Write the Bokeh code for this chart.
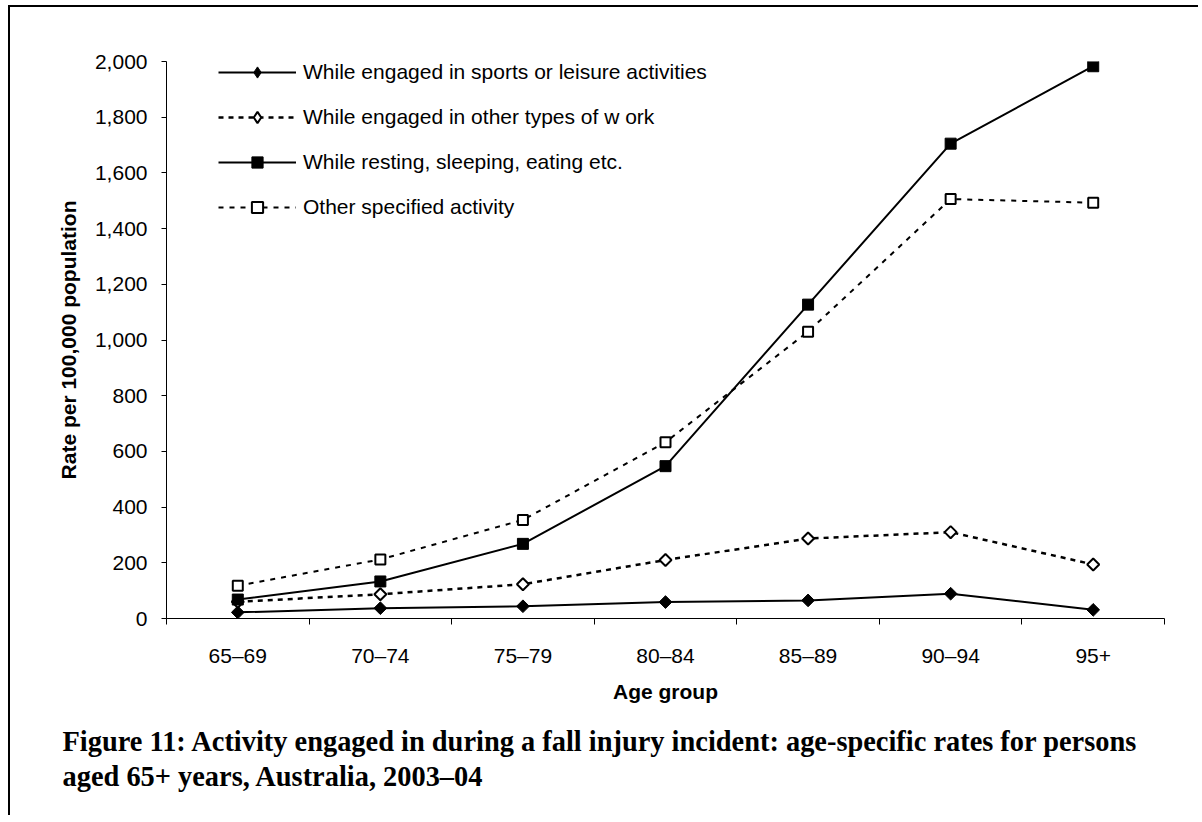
import numpy as np
from bokeh.plotting import figure
from bokeh.models import (Range1d, FixedTicker, NumeralTickFormatter, Legend, LegendItem, Title)
from bokeh.embed import file_html
from bokeh.resources import INLINE

categories = ["65–69", "70–74", "75–79", "80–84", "85–89", "90–94", "95+"]
sports = [22, 37, 44, 59, 65, 89, 31]
other_work = [60, 87, 123, 210, 287, 310, 194]
resting = [68, 133, 268, 547, 1127, 1705, 1983]
other_spec = [118, 212, 354, 633, 1030, 1506, 1493]

series_labels = [
    "While engaged in sports or leisure activities",
    "While engaged in other types of w ork",
    "While resting, sleeping, eating etc.",
    "Other specified activity",
]
y_ticks = list(range(0, 2001, 200))

xpos = [i + 0.5 for i in range(len(categories))]
bounds = list(range(len(categories) + 1))

SANS = "Liberation Sans"

p = figure(width=1190, height=810, output_backend="svg", toolbar_location=None,
           x_range=Range1d(0, len(categories)), y_range=Range1d(0, 2000),
           min_border_left=156, min_border_right=36, min_border_top=54, min_border_bottom=199)
p.outline_line_color = None
p.xgrid.visible = False
p.ygrid.visible = False
p.background_fill_color = "white"
p.border_fill_color = "white"
p.styles = {"margin-left": "8px", "margin-top": "5px",
            "border-left": "2px solid black", "border-top": "2px solid black"}

# X axis
xa = p.xaxis[0]
xa.ticker = FixedTicker(ticks=xpos, minor_ticks=bounds)
xa.major_label_overrides = {x: c for x, c in zip(xpos, categories)}
xa.major_tick_out = 0
xa.major_tick_in = 0
xa.minor_tick_out = 6
xa.minor_tick_in = 0
xa.minor_tick_line_color = "black"
xa.axis_line_color = "black"
xa.major_label_standoff = 19
xa.major_label_text_font = SANS
xa.major_label_text_font_size = "21px"
xa.major_label_text_color = "black"
xa.axis_label = "Age group"
xa.axis_label_text_font = SANS
xa.axis_label_text_font_size = "21px"
xa.axis_label_text_font_style = "bold"
xa.axis_label_text_color = "black"
xa.axis_label_standoff = 10

# Y axis
ya = p.yaxis[0]
ya.ticker = FixedTicker(ticks=y_ticks)
ya.formatter = NumeralTickFormatter(format="0,0")
ya.major_tick_out = 5
ya.major_tick_in = 0
ya.minor_tick_out = 0
ya.minor_tick_in = 0
ya.major_tick_line_color = "black"
ya.axis_line_color = "black"
ya.major_label_standoff = 14
ya.major_label_text_font = SANS
ya.major_label_text_font_size = "21px"
ya.major_label_text_color = "black"
ya.axis_label = "Rate per 100,000 population"
ya.axis_label_text_font = SANS
ya.axis_label_text_font_size = "21px"
ya.axis_label_text_font_style = "bold"
ya.axis_label_text_color = "black"
ya.axis_label_standoff = 12

# sports: solid, filled diamond
l1 = p.line(xpos, sports, line_color="black", line_width=2)
d1 = p.scatter(xpos, sports, marker="diamond", size=0.5,
               fill_color="black", line_color="black", line_width=1)  # legend symbol
s1 = p.scatter(xpos, sports, marker="square", angle=np.pi / 4, size=9,
               fill_color="black", line_color="black", line_width=1)
# other work: dotted, open diamond
l2 = p.line(xpos, other_work, line_color="black", line_width=2.5, line_dash="5 5")
d2 = p.scatter(xpos, other_work, marker="diamond", size=0.5,
               fill_color="white", line_color="black", line_width=2)  # legend symbol
s2 = p.scatter(xpos, other_work, marker="square", angle=np.pi / 4, size=8.5,
               fill_color="white", line_color="black", line_width=2)
# resting: solid, filled square
l3 = p.line(xpos, resting, line_color="black", line_width=2)
s3 = p.scatter(xpos, resting, marker="square", size=11,
               fill_color="black", line_color="black", line_width=1)
# other specified: dotted, open square
l4 = p.line(xpos, other_spec, line_color="black", line_width=2, line_dash="5 6")
s4 = p.scatter(xpos, other_spec, marker="square", size=10,
               fill_color="white", line_color="black", line_width=2)

items = []
for lab, rs in zip(series_labels, [[l1, d1], [l2, d2], [l3, s3], [l4, s4]]):
    items.append(LegendItem(label=lab, renderers=rs))

legend = Legend(items=items, location=(52, 397), orientation="vertical",
                glyph_width=78, glyph_height=28, label_height=28, spacing=17,
                label_standoff=7, padding=0, margin=0,
                border_line_alpha=0, background_fill_alpha=0,
                label_text_font=SANS, label_text_font_size="21px",
                label_text_color="black")
p.add_layout(legend, "center")

title = Title(text="Figure 11: Activity engaged in during a fall injury incident: age-specific rates for persons\naged 65+ years, Australia, 2003–04",
              align="left", offset=-104, standoff=36,
              text_font="Liberation Serif", text_font_size="28.4px",
              text_font_style="bold", text_color="black", text_line_height=1.15)
p.add_layout(title, "below")

open("out.html", "w").write(file_html(p, INLINE))
